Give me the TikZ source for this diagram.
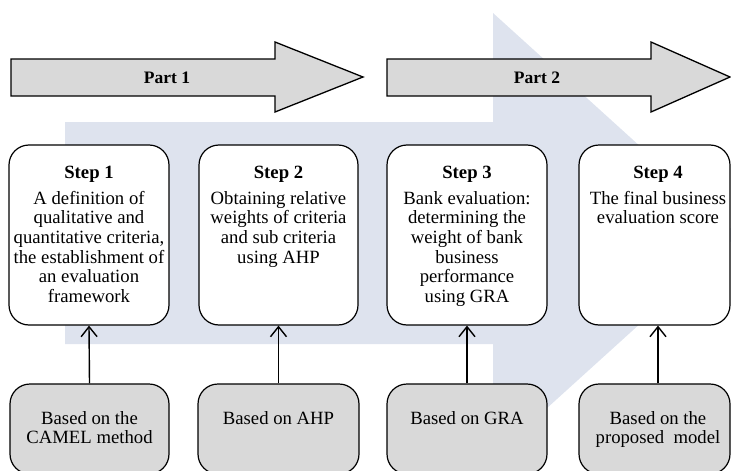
\documentclass[tikz,border=0pt]{standalone}
\usepackage{fontspec}
\setmainfont{Liberation Serif}
\usetikzlibrary{arrows.meta}
\definecolor{bgblue}{HTML}{DEE3EE}
\definecolor{boxgray}{HTML}{D9D9D9}
\tikzset{
  stepbox/.style={draw=black, line width=1.2pt, fill=white, rounded corners=20pt, inner sep=0pt},
  basebox/.style={draw=black, line width=1.2pt, fill=boxgray, rounded corners=20pt, inner sep=0pt},
  parrow/.style={draw=black, line width=1.3pt, fill=boxgray, line join=miter},
  txt/.style={align=center, inner sep=0pt, anchor=north, font=\fontsize{18.7}{19.7}\selectfont},
  ptxt/.style={inner sep=0pt, font=\fontsize{17.5}{20}\selectfont\bfseries},
  arr/.style={line width=1.4pt, -{Straight Barb[length=10pt,width=16pt,line width=1.4pt]}}
}
\begin{document}
\begin{tikzpicture}[x=1pt,y=-1pt]
\useasboundingbox (0,0) rectangle (731,471);
% background arrow
\fill[bgblue] (65,122) -- (493,122) -- (493,13) -- (738,235) -- (493,457) -- (493,344) -- (65,344) -- cycle;
% part arrows
\draw[parrow] (11,59) -- (275,59) -- (275,42) -- (363,77) -- (275,112) -- (275,96) -- (11,96) -- cycle;
\draw[parrow] (387,59) -- (651,59) -- (651,42) -- (730,77) -- (651,112) -- (651,96) -- (387,96) -- cycle;
\node[ptxt] (p1) at (167,77.5) {Part 1};
\node[ptxt] (p2) at (537,77.5) {Part 2};
% step boxes
\node[stepbox, minimum width=160pt, minimum height=180pt] (s1) at (89,235) {};
\node[stepbox, minimum width=159pt, minimum height=180pt] (s2) at (278.5,235) {};
\node[stepbox, minimum width=160pt, minimum height=180pt] (s3) at (467,235) {};
\node[stepbox, minimum width=151pt, minimum height=180pt] (s4) at (654.5,235) {};
\node[txt] (t1) at (89,165.5) {\textbf{Step 1}\\[6.3pt]A definition of\\qualitative and\\quantitative criteria,\\the establishment of\\an evaluation\\framework};
\node[txt] (t2) at (278.5,165.5) {\textbf{Step 2}\\[6.3pt]Obtaining relative\\weights of criteria\\and sub criteria\\using AHP};
\node[txt] (t3) at (467,165.5) {\textbf{Step 3}\\[6.3pt]Bank evaluation:\\determining the\\weight of bank\\business\\performance\\using GRA};
\node[txt] (t4) at (658,165.5) {\textbf{Step 4}\\[6.3pt]The final business\\evaluation score};
% base boxes
\node[basebox, minimum width=159pt, minimum height=90pt] (b1) at (89.5,429) {};
\node[basebox, minimum width=161pt, minimum height=90pt] (b2) at (278.5,429) {};
\node[basebox, minimum width=160pt, minimum height=90pt] (b3) at (467,429) {};
\node[basebox, minimum width=151pt, minimum height=90pt] (b4) at (654.5,429) {};
\node[txt] (u1) at (89.5,411) {Based on the\\CAMEL method};
\node[txt] (u2) at (278.5,411) {Based on AHP};
\node[txt] (u3) at (467,411) {Based on GRA};
\node[txt] (u4) at (658,411) {Based on the\\proposed\ \ model};
% connectors
\draw[arr] (b1.north) -- (s1.south);
\draw[arr] (b2.north) -- (s2.south);
\draw[arr] (b3.north) -- (s3.south);
\draw[arr] ([xshift=3.5pt]b4.north) -- ([xshift=3.5pt]s4.south);
\end{tikzpicture}
\end{document}
